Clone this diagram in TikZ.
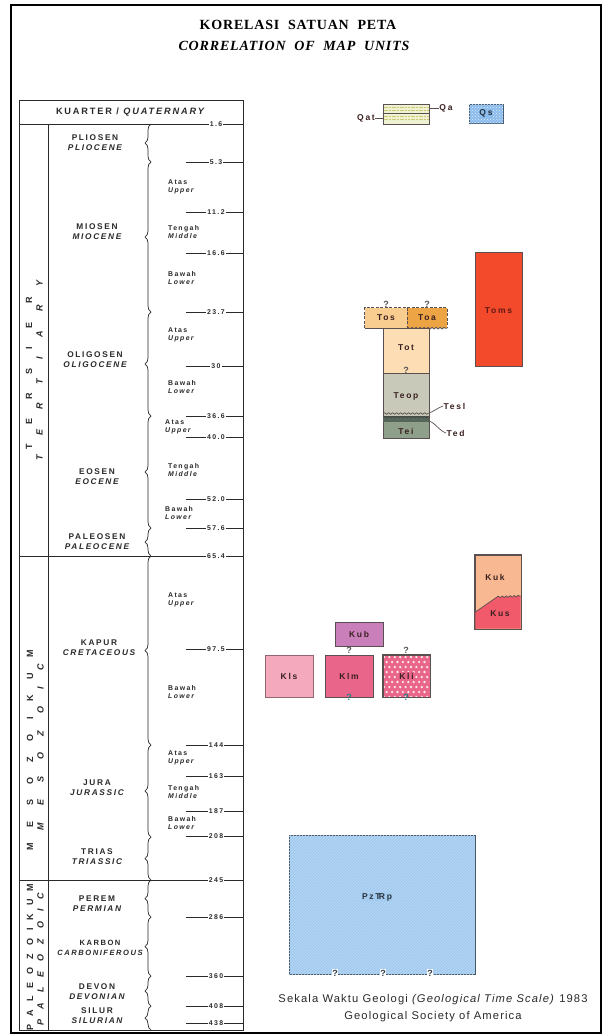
\documentclass[tikz,border=0pt]{standalone}
\usepackage{fontspec}
\setmainfont{Liberation Sans}
\newfontfamily\tabf[LetterSpace=20]{Liberation Sans}
\newfontfamily\capf[LetterSpace=10]{Liberation Sans}
\newfontfamily\titf[LetterSpace=6]{Liberation Serif}
\usetikzlibrary{decorations.pathreplacing,decorations.pathmorphing,patterns,positioning}
\definecolor{ink}{HTML}{2A2A2A}
\definecolor{uline}{HTML}{5A5050}
\definecolor{utext}{HTML}{3A2020}
\definecolor{cQa}{HTML}{EEF2D2}
\definecolor{cQs}{HTML}{8CBCEC}
\definecolor{cTos}{HTML}{F9CD90}
\definecolor{cToa}{HTML}{EDA445}
\definecolor{cTot}{HTML}{FCDDB4}
\definecolor{cTeop}{HTML}{C9C9BA}
\definecolor{cTei}{HTML}{8FA08A}
\definecolor{cTed}{HTML}{56665A}
\definecolor{cToms}{HTML}{F24A2A}
\definecolor{cKuk}{HTML}{F8B992}
\definecolor{cKus}{HTML}{F15A6A}
\definecolor{cKub}{HTML}{C97FB9}
\definecolor{cKls}{HTML}{F5A9BD}
\definecolor{cKlm}{HTML}{E9668A}
\definecolor{cPz}{HTML}{A3CBF0}
\begin{document}
\begin{tikzpicture}[x=1pt,y=-1pt,
  tline/.style={line width=0.7pt, draw=ink},
  per/.style={align=center, text=ink, inner sep=0, font=\tabf\bfseries\fontsize{8.3}{9.8}\selectfont},
  ep/.style={align=left, anchor=west, text=ink, inner sep=0, font=\tabf\bfseries\fontsize{6.9}{8}\selectfont},
  tk/.style={fill=white, text=ink, inner sep=1.2pt, font=\tabf\bfseries\fontsize{6.9}{7}\selectfont},
  vt/.style={rotate=90, text=ink, inner sep=0, font=\tabf\bfseries\fontsize{9}{9}\selectfont},
  unit/.style={draw=uline, line width=0.8pt, inner sep=0, text=utext, font=\tabf\bfseries\fontsize{8.5}{9}\selectfont},
  ufill/.style={inner sep=0, text=utext, font=\tabf\bfseries\fontsize{8.5}{9}\selectfont},
  ulab/.style={inner sep=0.5pt, text=utext, font=\tabf\bfseries\fontsize{8.5}{9}\selectfont},
  qm/.style={inner sep=0, text=ink!80, font=\bfseries\fontsize{9}{9}\selectfont},
  brc/.style={decorate, decoration={brace, amplitude=6pt}, line width=0.7pt, draw=ink},
  wav/.style={decorate, decoration={snake, segment length=4pt, amplitude=0.8pt}}
]
\useasboundingbox (0,0) rectangle (604,1036);
\fill[white] (0,0) rectangle (604,1036);
\draw[line width=2.2pt] (11,5) rectangle (601,1033);

% title
\node[font=\titf\bfseries\fontsize{14}{16}\selectfont, inner sep=0] (t1) at (298,25) {KORELASI\ \ SATUAN\ \ PETA};
\node[font=\titf\bfseries\itshape\fontsize{14}{16}\selectfont, inner sep=0] (t2) at (294,46) {CORRELATION\ \ OF\ \ MAP\ \ UNITS};

% table frame
\draw[tline] (19,100) rectangle (243,1030);
\draw[tline] (19,124) -- (243,124);
\draw[tline] (48,124) -- (48,1030);
\draw[tline] (19,556) -- (243,556);
\draw[tline] (19,880) -- (243,880);
\node[per, font=\tabf\bfseries\fontsize{9.2}{10}\selectfont] (hdr) at (130,112) {KUARTER / \itshape QUATERNARY};

% braces
\foreach \a/\b in {124/162,162/312,312/416,416/528,528/556,556/745,745/837,837/880,880/917,917/976,976/1006,1006/1030}
  \draw[brc] (151,\b) -- (151,\a);

% ticks
\foreach \y/\v in {162/5.3,212/11.2,253/16.6,312/23.7,366/30,416/36.6,437/40.0,499/52.0,528/57.6,649/97.5,745/144,776/163,811/187,836/208,917/286,976/360,1006/408,1023/438}
  \draw[tline, line width=0.6pt] (186,\y) -- (243,\y);
\foreach \y/\v in {124/1.6,162/5.3,212/11.2,253/16.6,312/23.7,366/30,416/36.6,437/40.0,499/52.0,528/57.6,556/65.4,649/97.5,745/144,776/163,811/187,836/208,880/245,917/286,976/360,1006/408,1023/438}
  \node[tk] at (216,\y) {\v};

% periods
\node[per] (plio) at (95,143) {PLIOSEN\\\itshape PLIOCENE};
\node[per] (mio) at (97,232) {MIOSEN\\\itshape MIOCENE};
\node[per] (oli) at (95,360) {OLIGOSEN\\\itshape OLIGOCENE};
\node[per] (eo) at (97,477) {EOSEN\\\itshape EOCENE};
\node[per] (paleo) at (97,542) {PALEOSEN\\\itshape PALEOCENE};
\node[per] (kap) at (99,648) {KAPUR\\\itshape CRETACEOUS};
\node[per] (jur) at (97,788) {JURA\\\itshape JURASSIC};
\node[per] (tri) at (97,857) {TRIAS\\\itshape TRIASSIC};
\node[per] (perm) at (97,904) {PEREM\\\itshape PERMIAN};
\node[per, font=\tabf\bfseries\fontsize{7.6}{9.8}\selectfont] (carb) at (100,948) {KARBON\\\itshape CARBONIFEROUS};
\node[per] (dev) at (97,992) {DEVON\\\itshape DEVONIAN};
\node[per] (sil) at (97,1016) {SILUR\\\itshape SILURIAN};

% epochs
\node[ep] (e1) at (168,187) {Atas\\\itshape Upper};
\node[ep] (e2) at (168,232) {Tengah\\\itshape Middle};
\node[ep] (e3) at (168,278) {Bawah\\\itshape Lower};
\node[ep] (e4) at (168,335) {Atas\\\itshape Upper};
\node[ep] (e5) at (168,387) {Bawah\\\itshape Lower};
\node[ep] (e6) at (165,427) {Atas\\\itshape Upper};
\node[ep] (e7) at (168,470) {Tengah\\\itshape Middle};
\node[ep] (e8) at (165,513) {Bawah\\\itshape Lower};
\node[ep] (e9) at (168,600) {Atas\\\itshape Upper};
\node[ep] (e10) at (168,692) {Bawah\\\itshape Lower};
\node[ep] (e11) at (168,758) {Atas\\\itshape Upper};
\node[ep] (e12) at (168,792) {Tengah\\\itshape Middle};
\node[ep] (e13) at (168,823) {Bawah\\\itshape Lower};

% vertical era labels
\node[vt] (ters) at (29,373) {\makebox[152pt][s]{T\hfil E\hfil R\hfil S\hfil I\hfil E\hfil R}};
\node[vt] (tert) at (39.5,370) {\itshape\makebox[180pt][s]{T\hfil E\hfil R\hfil T\hfil I\hfil A\hfil R\hfil Y}};
\node[vt] (meso) at (30,750) {\makebox[200pt][s]{M\hfil E\hfil S\hfil O\hfil Z\hfil O\hfil I\hfil K\hfil U\hfil M}};
\node[vt] (mesoe) at (40.5,747) {\itshape\makebox[166pt][s]{M\hfil E\hfil S\hfil O\hfil Z\hfil O\hfil I\hfil C}};
\node[vt] (paleoz) at (30,957) {\makebox[146pt][s]{P\hfil A\hfil L\hfil E\hfil O\hfil Z\hfil O\hfil I\hfil K\hfil U\hfil M}};
\node[vt] (paleoze) at (40.5,959) {\itshape\makebox[132pt][s]{P\hfil A\hfil L\hfil E\hfil O\hfil Z\hfil O\hfil I\hfil C}};

% ---- map units ----
% Qa / Qat
\node[unit, fill=cQa, minimum width=46pt, minimum height=20pt] (qbox) at (406,114) {};
\foreach \y in {107,110,116.5,119.5}
  \draw[olive!45, line width=0.5pt, dash pattern=on 2pt off 0.7pt] (383.5,\y) -- (428.5,\y);
\draw[uline, line width=0.7pt] (qbox.west |- 0,113) -- (qbox.east |- 0,113);
\node[ulab] (qalab) at (446,108) {Qa};
\node[ulab] (qatlab) at (366,118) {Qat};
\draw[uline, line width=0.6pt] (qalab.west) -- (qalab.west -| qbox.east);
\draw[uline, line width=0.6pt] (qatlab.east) -- (qatlab.east -| qbox.west);
% Qs
\node[unit, draw=cQs!50!black, fill=cQs, minimum width=34pt, minimum height=19pt,
  postaction={pattern=crosshatch dots, pattern color=white!70!cQs}] (qs) at (486,113.5) {};
\node[ulab, text=cQs!25!black, fill=cQs, inner sep=0.3pt] (qslab) at (qs.center) {Qs};

% Tos / Toa
\node[ufill, fill=cTos, minimum width=42pt, minimum height=20pt] (tos) at (386,318) {Tos};
\node[ufill, fill=cToa, minimum width=40pt, minimum height=20pt] (toa) at (427,318) {Toa};
\draw[uline, line width=0.8pt, dashed, dash pattern=on 3pt off 1.5pt] (tos.south west) -- (tos.north west) -- (toa.north east) -- (toa.south east);
\draw[uline, line width=0.8pt, dashed, dash pattern=on 3pt off 1.5pt] (tos.north east) -- (tos.south east);
\draw[uline, line width=0.8pt] (tos.south west) -- (tos.south east);
\draw[uline, line width=0.8pt, wav] (toa.south west) -- (toa.south east);
\node[qm, above=0.5pt of tos.north] (q1) {?};
\node[qm, above=0.5pt of toa.north] (q2) {?};
% Tot, Teop, Tei
\node[unit, fill=cTot, minimum width=46pt, minimum height=45pt] (tot) at (406,350.5) {};
\node[ulab] at (406,348) {Tot};
\node[unit, fill=cTeop, minimum width=46pt, minimum height=43pt] (teop) at (406,394.5) {};
\node[ulab] at (406,396) {Teop};
\node[unit, fill=cTei, minimum width=46pt, minimum height=22pt] (tei) at (406,427) {};
\fill[cTed] (383.4,417) rectangle (428.6,422);
\draw[uline, line width=0.7pt, wav] (383.4,413.5) -- (428.6,413.5);
\draw[cTed!70!black, line width=0.7pt, wav] (383.4,417) -- (428.6,417);
\node[ulab] at (406,431) {Tei};
\node[qm, fill=cTot, inner sep=0.3pt] (q3) at (406,370) {?};
\node[ulab, anchor=west] (tesl) at (443,406) {Tesl};
\node[ulab, anchor=west] (ted) at (446,433) {Ted};
\coordinate (teslp) at (429,413);
\coordinate (tedp) at (429,421);
\draw[uline, line width=0.7pt] (tesl.west) to[out=200, in=20] (teslp);
\draw[uline, line width=0.7pt] (ted.west) to[out=160, in=-20] (tedp);
% Toms
\node[unit, fill=cToms, minimum width=47pt, minimum height=114pt] (toms) at (498.5,309) {};
\node[ulab, text=utext!80!red] at (498.5,311) {Toms};
% Kuk / Kus
\node[unit, fill=cKuk, minimum width=46pt, minimum height=74pt] (kuk) at (498,592) {};
\fill[cKus] (475.4,612) -- (497,597) decorate[decoration={snake, segment length=4pt, amplitude=0.8pt}] {-- (520.6,596)} -- (520.6,628.6) -- (475.4,628.6) -- cycle;
\draw[uline, line width=0.7pt] (475.4,612) -- (497,597) decorate[decoration={snake, segment length=4pt, amplitude=0.8pt}] {-- (520.6,596)};
\draw[uline, line width=0.8pt] (kuk.north west) rectangle (kuk.south east);
\node[ulab] at (495,577) {Kuk};
\node[ulab] at (500,614) {Kus};
% Kub
\node[unit, fill=cKub, minimum width=48pt, minimum height=24pt] (kub) at (359,634) {Kub};
% Kls, Klm, Kli
\node[unit, draw=cKls!60!black, fill=cKls, minimum width=48pt, minimum height=42pt] (kls) at (289,676) {Kls};
\node[unit, fill=cKlm, minimum width=48pt, minimum height=42pt] (klm) at (349,676) {Klm};
\node[unit, fill=cKlm, minimum width=47pt, minimum height=42pt] (kli) at (406.5,676) {};
\begin{scope}
  \clip (384,656) rectangle (429,696);
  \foreach \i in {0,...,9} \foreach \j in {0,...,8} {
    \fill[white!85!cKlm] ({384+\i*5.4+mod(\j,2)*2.7},{657+\j*5}) circle (1.3);
  }
\end{scope}
\draw[uline, line width=0.8pt] (kli.north west) rectangle (kli.south east);
\node[ulab, fill=cKlm, inner sep=0.8pt] at (kli.center) {Kli};
\node[qm, fill=white, inner sep=0.3pt] (q4) at (349,650) {?};
\node[qm, fill=white, inner sep=0.3pt] (q5) at (406,650) {?};
\node[qm, text=teal!70!gray] (q6) at (349,697) {?};
\node[qm, text=teal!70!gray] (q7) at (406,697) {?};
% PzTRp
\node[unit, draw=cPz!40!black, fill=cPz, minimum width=186pt, minimum height=139pt,
  postaction={pattern=north east lines, pattern color=cPz!75!white}] (pz) at (382,904.5) {};
\node[ulab, text=cPz!25!black, fill=cPz] (pzlab) at (377,897) {Pz{T\kern-1.6pt R}p};
\node[qm, fill=white, inner sep=0.4pt, text=cPz!30!black] (q8) at (335,973) {?};
\node[qm, fill=white, inner sep=0.4pt, text=cPz!30!black] (q9) at (383,973) {?};
\node[qm, fill=white, inner sep=0.4pt, text=cPz!30!black] (q10) at (430,973) {?};

% caption
\node[font=\capf\fontsize{11.2}{12}\selectfont, text=ink, inner sep=0] (cap1) at (433,1000) {Sekala\ Waktu\ Geologi \textit{(Geological Time\ Scale)} 1983};
\node[font=\capf\fontsize{11.2}{12}\selectfont, text=ink, inner sep=0] (cap2) at (433,1017) {Geological\ Society\ of\ America};
\end{tikzpicture}
\end{document}
